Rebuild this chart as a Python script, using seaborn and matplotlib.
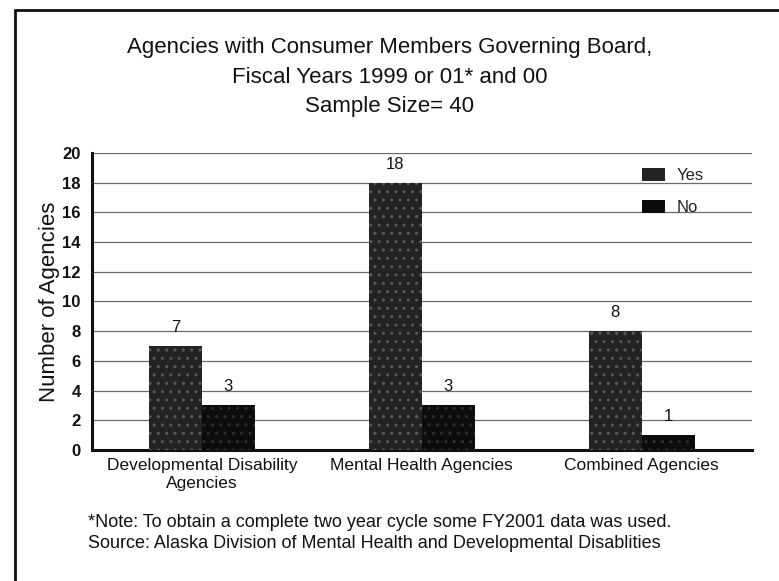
import matplotlib
matplotlib.use("Agg")
import matplotlib.pyplot as plt
from matplotlib.lines import Line2D
import seaborn as sns
import pandas as pd

# Data
categories = ["Developmental Disability\nAgencies", "Mental Health Agencies", "Combined Agencies"]
yes_counts = [7, 18, 8]
no_counts = [3, 3, 1]
series = ["Yes", "No"]
y_ticks = list(range(0, 21, 2))

df = pd.DataFrame({
    "Agency": categories * 2,
    "Answer": ["Yes"] * 3 + ["No"] * 3,
    "Count": yes_counts + no_counts,
})

sns.set_theme(style="white")
plt.rcParams["font.family"] = ["Liberation Sans", "DejaVu Sans"]
plt.rcParams["hatch.linewidth"] = 1.0

fig = plt.figure(figsize=(7.79, 5.81), dpi=100)
ax = fig.add_axes([0.118, 0.2255, 0.847, 0.5112])

sns.barplot(data=df, x="Agency", y="Count", hue="Answer", hue_order=series,
            palette={"Yes": "#232323", "No": "#0c0c0c"}, width=0.48,
            saturation=1, ax=ax, zorder=3, linewidth=0)

# Speckled fill on the bars
hatch_cols = {"Yes": "#5a5a5a", "No": "#2e2e2e"}
for container, name in zip(ax.containers, series):
    for bar in container:
        bar.set_hatch("..")
        bar.set_edgecolor(hatch_cols[name])
        bar.set_linewidth(0)

ax.set_ylim(0, 20)
ax.set_yticks(y_ticks)
ax.set_xlim(-0.5, 2.5)
ax.yaxis.grid(True, color="#6a6a6a", linewidth=0.9, zorder=0)
ax.xaxis.grid(False)

for side in ["top", "right"]:
    ax.spines[side].set_visible(False)
for side in ["left", "bottom"]:
    ax.spines[side].set_color("#111111")
    ax.spines[side].set_linewidth(2.2)

ax.tick_params(axis="y", length=0, labelsize=12, pad=8, labelcolor="#111111")
ax.tick_params(axis="x", which="major", length=0, labelsize=12.5, pad=6, labelcolor="#111111")
ax.set_xticks([0.5, 1.5], minor=True)
ax.tick_params(axis="x", which="minor", direction="in", length=4, width=1, color="#333333")
for lab in ax.get_yticklabels():
    lab.set_fontweight("bold")

ax.set_xlabel("")
ax.set_ylabel("Number of Agencies", fontsize=16, color="#111111", labelpad=2)

for container in ax.containers:
    ax.bar_label(container, fmt="%d", padding=8, fontsize=12, color="#111111")

leg = ax.legend(loc="upper right", bbox_to_anchor=(0.95, 1.0), frameon=False,
                fontsize=12, handlelength=1.4, handleheight=0.8,
                handletextpad=0.7, labelspacing=1.0)
for t in leg.get_texts():
    t.set_color("#222222")

fig.text(0.5, 0.918, "Agencies with Consumer Members Governing Board,",
         ha="center", va="center", fontsize=16, color="#111111")
fig.text(0.5, 0.866, "Fiscal Years 1999 or 01* and 00",
         ha="center", va="center", fontsize=16, color="#111111")
fig.text(0.5, 0.816, "Sample Size= 40",
         ha="center", va="center", fontsize=16, color="#111111")

fig.text(0.113, 0.101, "*Note: To obtain a complete two year cycle some FY2001 data was used.",
         ha="left", va="center", fontsize=13, color="#111111")
fig.text(0.113, 0.065, "Source: Alaska Division of Mental Health and Developmental Disablities",
         ha="left", va="center", fontsize=13, color="#111111")

# Frame around the figure (left and top edges)
fig.add_artist(Line2D([0.019, 0.019], [0.0, 0.983], transform=fig.transFigure,
                      color="#111111", linewidth=2))
fig.add_artist(Line2D([0.019, 1.0], [0.983, 0.983], transform=fig.transFigure,
                      color="#111111", linewidth=2))

fig.savefig("out.png", dpi=100)
